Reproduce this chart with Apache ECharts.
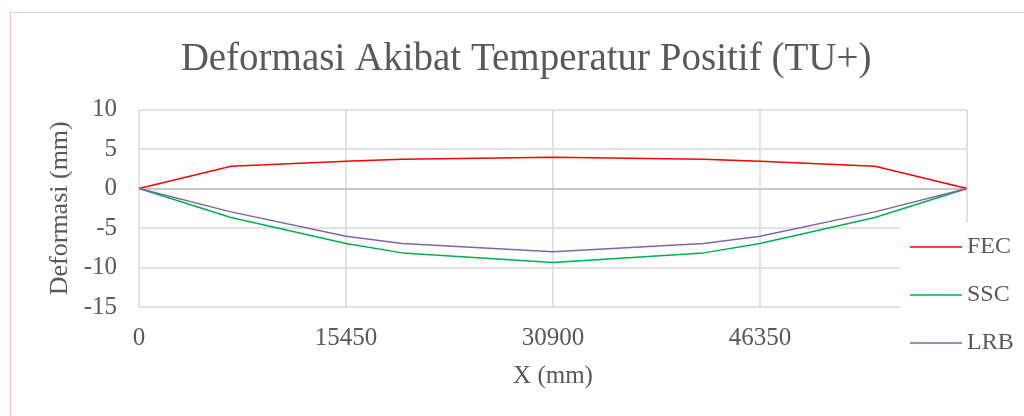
<!DOCTYPE html>
<html>
<head>
<meta charset="utf-8">
<script src="https://cdn.jsdelivr.net/npm/echarts@6/dist/echarts.min.js"></script>
<style>
html,body{margin:0;padding:0;background:#fff;}
#chart{width:1024px;height:416px;}
</style>
</head>
<body>
<div id="chart"></div>
<script>
var xPositions = [0, 6870, 15450, 19650, 30900, 42150, 46350, 54930, 61800];
var fecValues = [0, 2.82, 3.46, 3.71, 3.96, 3.71, 3.46, 2.82, 0];
var sscValues = [0, -3.67, -6.96, -8.15, -9.37, -8.15, -6.96, -3.67, 0];
var lrbValues = [0, -2.96, -6.04, -6.96, -8.02, -6.96, -6.04, -2.96, 0];
var seriesNames = ['FEC', 'SSC', 'LRB'];
var xTicks = [0, 15450, 30900, 46350, 61800];
var yTicks = [-15, -10, -5, 0, 5, 10];

function pairs(vals) {
  return xPositions.map(function (x, i) { return [x, vals[i]]; });
}

var FONT = '"Liberation Serif", "Times New Roman", serif';
var TXT = '#595959';
var chart = echarts.init(document.getElementById('chart'), null, {renderer: 'canvas'});

chart.setOption({
  animation: false,
  backgroundColor: '#ffffff',
  title: {
    text: 'Deformasi Akibat Temperatur Positif (TU+)',
    left: 521,
    textAlign: 'center',
    top: 35,
    textStyle: {fontFamily: FONT, fontSize: 39, fontWeight: 'normal', color: TXT}
  },
  graphic: [
    {type: 'line', shape: {x1: 10, y1: 12.5, x2: 1024, y2: 12.5}, style: {stroke: '#d9d9d9', lineWidth: 1}, z: 100},
    {type: 'line', shape: {x1: 10.5, y1: 12, x2: 10.5, y2: 416}, style: {stroke: '#efbdbd', lineWidth: 1}, z: 100}
  ],
  legend: {
    orient: 'vertical',
    left: 900,
    top: 222,
    padding: [13, 20, 20, 10],
    backgroundColor: '#ffffff',
    itemGap: 24,
    itemWidth: 52,
    itemHeight: 14,
    icon: 'path://M0,0 L52,0 L52,1.5 L0,1.5 Z',
    data: seriesNames,
    textStyle: {fontFamily: FONT, fontSize: 24, color: TXT, padding: [0, 0, 0, 0]}
  },
  grid: {left: 139, right: 57, top: 109.5, bottom: 109, containLabel: false},
  xAxis: {
    type: 'value',
    min: xTicks[0],
    max: xTicks[xTicks.length - 1],
    interval: xTicks[1] - xTicks[0],
    name: 'X (mm)',
    nameLocation: 'middle',
    nameGap: 57,
    nameTextStyle: {fontFamily: FONT, fontSize: 25, color: TXT},
    axisLine: {show: false, onZero: false},
    axisTick: {show: false},
    axisLabel: {fontFamily: FONT, fontSize: 25, color: TXT, margin: 19, showMaxLabel: false,
      formatter: function (v) { return String(v); }},
    splitLine: {show: true, lineStyle: {color: '#d9d9d9', width: 1.5}}
  },
  yAxis: {
    type: 'value',
    min: yTicks[0],
    max: yTicks[yTicks.length - 1],
    interval: yTicks[1] - yTicks[0],
    name: 'Deformasi (mm)',
    nameLocation: 'middle',
    nameGap: 64,
    nameTextStyle: {fontFamily: FONT, fontSize: 26, color: TXT},
    axisLine: {show: false},
    axisTick: {show: false},
    axisLabel: {fontFamily: FONT, fontSize: 25, color: TXT, margin: 22,
      formatter: function (v) { return String(v); }},
    splitLine: {show: true, lineStyle: {color: '#d9d9d9', width: 1.5}}
  },
  series: [
    {
      name: seriesNames[0], type: 'line', data: pairs(fecValues), symbol: 'none',
      color: '#ff0000', lineStyle: {color: '#ff0000', width: 1.5}, z: 3,
      markLine: {
        silent: true, symbol: 'none', label: {show: false},
        lineStyle: {color: '#bfbfbf', width: 1.5, type: 'solid'},
        data: [{yAxis: 0}], z: 1
      }
    },
    {
      name: seriesNames[1], type: 'line', data: pairs(sscValues), symbol: 'none',
      color: '#00b050', lineStyle: {color: '#00b050', width: 1.5}, z: 3
    },
    {
      name: seriesNames[2], type: 'line', data: pairs(lrbValues), symbol: 'none',
      color: '#8064a8', lineStyle: {color: '#8064a8', width: 1.5}, z: 3
    }
  ]
});
</script>
</body>
</html>
